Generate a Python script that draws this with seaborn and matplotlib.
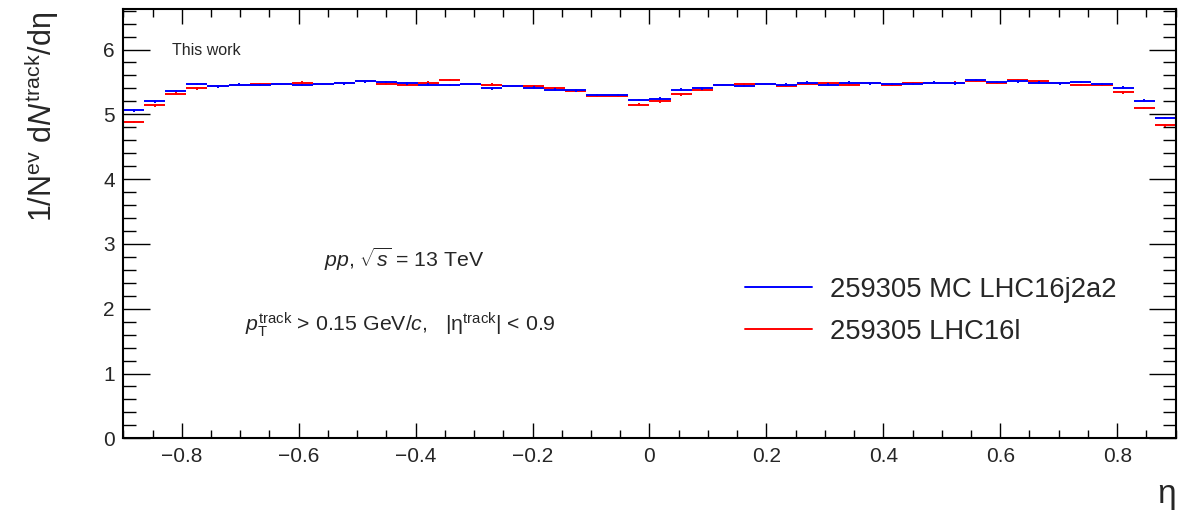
import numpy as np
import pandas as pd
import seaborn as sns
import matplotlib
matplotlib.use("Agg")
import matplotlib.pyplot as plt
from matplotlib.lines import Line2D
from matplotlib.ticker import MultipleLocator, FuncFormatter

# Pseudorapidity binning
eta_min, eta_max, n_bins = -0.9, 0.9, 50

# Track density per bin, 1/N_ev dN/deta
mc_lhc16j2a2 = [
    5.06, 5.20, 5.36, 5.47, 5.43, 5.46, 5.45, 5.47, 5.45, 5.47,
    5.48, 5.51, 5.50, 5.48, 5.46, 5.45, 5.47, 5.40, 5.44, 5.41,
    5.38, 5.37, 5.30, 5.30, 5.22, 5.24, 5.38, 5.40, 5.45, 5.44,
    5.47, 5.46, 5.49, 5.46, 5.49, 5.48, 5.47, 5.47, 5.49, 5.48,
    5.53, 5.50, 5.51, 5.49, 5.48, 5.50, 5.47, 5.41, 5.21, 4.94,
]
data_lhc16l = [
    4.88, 5.14, 5.32, 5.40, 5.43, 5.46, 5.47, 5.47, 5.49, 5.47,
    5.48, 5.51, 5.47, 5.46, 5.49, 5.53, 5.47, 5.46, 5.44, 5.44,
    5.40, 5.36, 5.29, 5.29, 5.15, 5.20, 5.31, 5.38, 5.45, 5.47,
    5.47, 5.44, 5.47, 5.48, 5.46, 5.48, 5.46, 5.48, 5.49, 5.49,
    5.52, 5.49, 5.53, 5.51, 5.48, 5.45, 5.46, 5.34, 5.10, 4.83,
]
stat_err = 0.02  # statistical uncertainty per bin

series_labels = ["259305 MC LHC16j2a2", "259305 LHC16l"]
series_colors = ["#0000ff", "#ff0000"]

edges = np.linspace(eta_min, eta_max, n_bins + 1)
centers = 0.5 * (edges[:-1] + edges[1:])
half_width = 0.5 * (edges[1] - edges[0])

df = pd.DataFrame({
    "eta": np.concatenate([centers, centers]),
    "dndeta": np.concatenate([mc_lhc16j2a2, data_lhc16l]),
    "sample": [series_labels[0]] * n_bins + [series_labels[1]] * n_bins,
})

sns.set_theme(style="ticks")
plt.rcParams["font.family"] = ["Liberation Sans", "DejaVu Sans"]
plt.rcParams["mathtext.fontset"] = "custom"
plt.rcParams["mathtext.rm"] = "Liberation Sans"
plt.rcParams["mathtext.it"] = "Liberation Sans:italic"
plt.rcParams["mathtext.bf"] = "Liberation Sans:bold"
plt.rcParams["axes.unicode_minus"] = True

fig = plt.figure(figsize=(11.83, 5.12), dpi=100)
fig.subplots_adjust(left=0.1042, right=0.9938, bottom=0.1439, top=0.9824)
ax = fig.add_subplot(111)

# Histogram-style error bars: horizontal bin width, vertical stat error
for lab, col in [(series_labels[1], series_colors[1]), (series_labels[0], series_colors[0])]:
    sub = df[df["sample"] == lab]
    ax.errorbar(sub["eta"], sub["dndeta"], xerr=half_width, yerr=stat_err,
                fmt="none", ecolor=col, elinewidth=1.4, capsize=0)

ax.set_xlim(eta_min, eta_max)
ax.set_ylim(0, 6.625)

ax.xaxis.set_major_locator(MultipleLocator(0.2))
ax.xaxis.set_minor_locator(MultipleLocator(0.05))
ax.yaxis.set_major_locator(MultipleLocator(1))
ax.yaxis.set_minor_locator(MultipleLocator(0.2))
ax.xaxis.set_major_formatter(FuncFormatter(lambda v, p: f"{v:g}".replace("-", "\u2212")))

ax.tick_params(axis="both", which="both", direction="in", top=True, right=True,
               color="black", width=1.0, labelsize=15)
ax.tick_params(axis="x", which="major", length=11, pad=6)
ax.tick_params(axis="x", which="minor", length=5.5)
ax.tick_params(axis="y", which="major", length=19.5, pad=6)
ax.tick_params(axis="y", which="minor", length=9.5)
for sp in ax.spines.values():
    sp.set_linewidth(1.5)
    sp.set_color("black")

ax.set_xlabel("")
ax.set_ylabel("")
fig.text(42 / 1183, 1 - 12 / 512,
         r"1/N$^{\mathrm{ev}}$ d$\mathit{N}^{\mathrm{track}}$/dη",
         rotation=90, ha="center", va="top", fontsize=22)
fig.text(1176 / 1183, 1 - 495 / 512, "η", ha="right", va="center", fontsize=24)

ax.text(0.0463, 0.9045, "This work", transform=ax.transAxes,
        ha="left", va="center", fontsize=11.5)
ax.text(0.1907, 0.3983, r"$\mathit{pp}$, $\sqrt{\mathit{s}}$ = 13 TeV",
        transform=ax.transAxes, ha="left", va="baseline", fontsize=15.3)
ax.text(0.1156, 0.2511,
        r"$\mathit{p}_{\mathrm{T}}^{\mathrm{track}}$ > 0.15 GeV/$\mathit{c}$,   |η$^{\mathrm{track}}$| < 0.9",
        transform=ax.transAxes, ha="left", va="baseline", fontsize=15.3)

handles = [Line2D([], [], color=c, lw=1.4) for c in series_colors]
ax.legend(handles, series_labels, loc="upper left", bbox_to_anchor=(0.5908, 0.3766),
          frameon=False, fontsize=19.7, handlelength=2.45, handletextpad=0.66,
          borderpad=0, borderaxespad=0, labelspacing=0.6)

fig.savefig("out.png", dpi=100)
